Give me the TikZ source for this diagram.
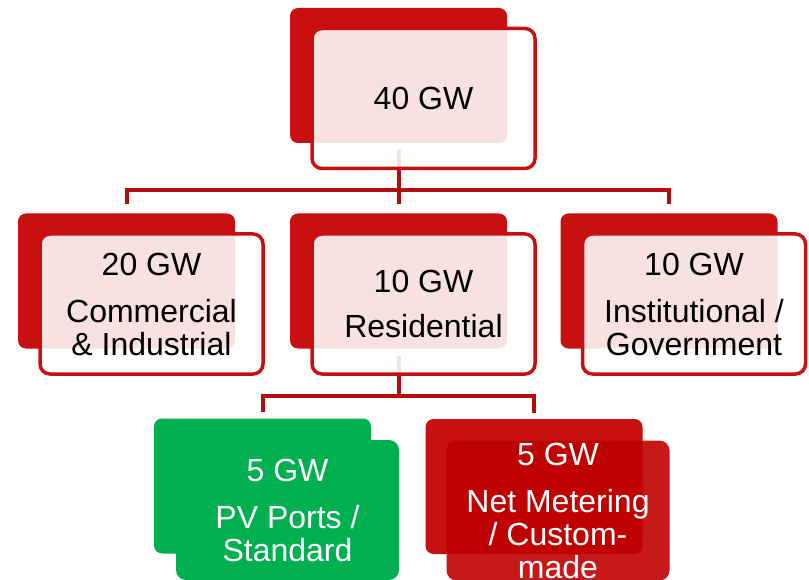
\documentclass[tikz,border=0pt]{standalone}
\usepackage{fontspec}
\setmainfont{Liberation Sans}
\usetikzlibrary{backgrounds}

\definecolor{boxred}{RGB}{200,16,16}
\definecolor{linkred}{RGB}{178,14,14}
\definecolor{deepred}{RGB}{192,0,0}
\definecolor{boxgreen}{RGB}{0,176,80}

\tikzset{
	backbox/.style={fill=boxred, rounded corners=8pt, minimum width=217pt, minimum height=135pt, inner sep=0pt},
	frontbox/.style={draw=boxred, line width=3.5pt, fill=white, fill opacity=0.88, text opacity=1,
		rounded corners=10pt, minimum width=223pt, minimum height=140pt, inner sep=0pt, align=center,
		font=\fontsize{32}{33}\selectfont},
	greenback/.style={backbox, fill=boxgreen},
	greenfront/.style={frontbox, draw=none, fill=boxgreen, fill opacity=1, text=white},
	redfront/.style={frontbox, draw=none, fill=deepred, fill opacity=0.9, text=white},
	link/.style={draw=linkred, line width=4pt},
}

\begin{document}
\begin{tikzpicture}[x=1pt, y=-1pt]
		\useasboundingbox (0,0) rectangle (809,580);
		% top
		\node[backbox] (topb) at (398.5,75.5) {};
		\node[frontbox] (top) at ([shift={(25,23)}]topb.center) {40 GW};
		% middle row
		\foreach \nm/\x/\txt in {com/126.5/{20 GW\\[14pt]Commercial\\\& Industrial},
				res/398.5/{10 GW\\[12pt]Residential},
				ins/669/{10 GW\\[14pt]Institutional /\\Government}}
			{
				\node[backbox] (\nm b) at (\x,281) {};
				\node[frontbox] (\nm) at ([shift={(25,23)}]\nm b.center) {\txt};
			}
		% bottom row
		\node[greenback] (pvb) at (262.5,486) {};
		\node[greenfront] (pv) at ([shift={(25,24)}]pvb.center) {5 GW\\[14pt]PV Ports /\\Standard};
		\node[backbox] (netb) at (534,486.5) {};
		\node[redfront] (net) at ([shift={(24,24)}]netb.center) {5 GW\\[14pt]Net Metering\\/ Custom-\\made};
		% connectors
		\begin{pgfonlayer}{background}
			\coordinate (topj) at ([yshift=-47pt]topb.south);
			\draw[link] ([yshift=-7pt]topb.south) -- (topj);
			\draw[link] ([yshift=9pt]comb.north) |- (topj) -| ([yshift=9pt]insb.north);
			\draw[link] (topj) -- ([yshift=9pt]resb.north);
			\coordinate (resj) at ([yshift=-47pt]resb.south);
			\draw[link] ([yshift=-7pt]resb.south) -- (resj);
			\draw[link] ([yshift=6pt]pvb.north) |- (resj) -| ([yshift=6pt]netb.north);
		\end{pgfonlayer}
	\end{tikzpicture}
\end{document}
